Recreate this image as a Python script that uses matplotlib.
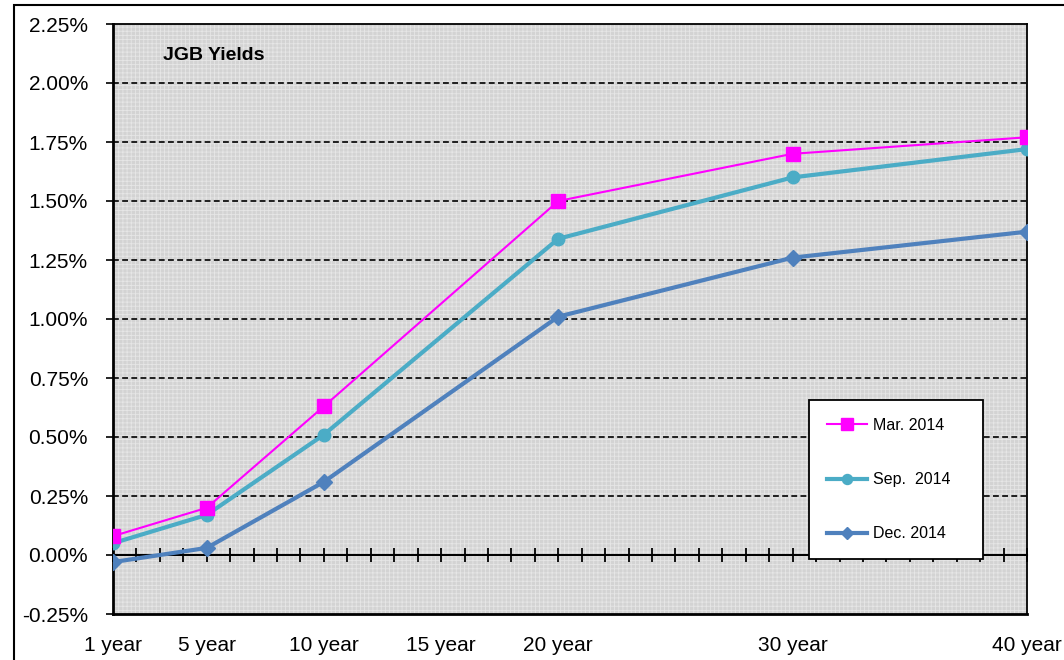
import numpy as np
import matplotlib.pyplot as plt
import matplotlib.patches as mpatches
from matplotlib.ticker import FuncFormatter

# JGB yield curves (in %)
maturity = [1, 5, 10, 20, 30, 40]
mar_2014 = [0.08, 0.20, 0.63, 1.50, 1.70, 1.77]
sep_2014 = [0.05, 0.17, 0.51, 1.34, 1.60, 1.72]
dec_2014 = [-0.03, 0.03, 0.31, 1.01, 1.26, 1.37]

x_ticks = [1, 5, 10, 15, 20, 30, 40]
x_labels = ['1 year', '5 year', '10 year', '15 year', '20 year', '30 year', '40 year']
y_ticks = np.arange(-0.25, 2.26, 0.25)

plt.rcParams['font.family'] = ['Liberation Sans', 'DejaVu Sans']
plt.rcParams['hatch.linewidth'] = 0.6

fig = plt.figure(figsize=(10.64, 6.6), dpi=100)
ax = fig.add_axes([113/1064, 1 - 614/660, 914/1064, 590/660])

# patterned grey background
ax.set_facecolor('#d3d3d3')
bg = mpatches.Rectangle((0, 0), 1, 1, transform=ax.transAxes, facecolor='none',
                        edgecolor='#e6e6e6', hatch='++++', lw=0, zorder=0)
ax.add_patch(bg)

# outer frame of the picture (only left and top edges are visible)
fig.patches.append(mpatches.Rectangle((14/1064, -1.0), 3.0, 2.0 - 5/660,
                                      transform=fig.transFigure, fill=False,
                                      edgecolor='black', lw=1.5))

# dashed grid lines
for y in y_ticks:
    if 0.1 < y < 2.2:
        ax.axhline(y, color='black', lw=1.2, ls=(0, (3.5, 2)), zorder=1)

ax.plot(maturity, mar_2014, color='#ff00ff', lw=1.5, marker='s', ms=10,
        label='Mar. 2014', zorder=4)
ax.plot(maturity, sep_2014, color='#4bacc6', lw=3, marker='o', ms=9,
        label='Sep.  2014', zorder=3)
ax.plot(maturity, dec_2014, color='#4f81bd', lw=3, marker='D', ms=8,
        label='Dec. 2014', zorder=3)

ax.set_xlim(1, 40)
ax.set_ylim(-0.25, 2.25)

ax.set_xticks(x_ticks)
ax.set_xticklabels(x_labels)
ax.tick_params(axis='x', length=0, pad=16, labelsize=15)
ax.set_yticks(y_ticks)
ax.yaxis.set_major_formatter(FuncFormatter(lambda v, p: f'{v:.2f}%'))
ax.tick_params(axis='y', direction='out', length=5, width=1.2, pad=13, labelsize=15)

for s in ['left', 'bottom']:
    ax.spines[s].set_linewidth(2)
for s in ['top', 'right']:
    ax.spines[s].set_linewidth(1.3)

# zero line with yearly tick marks
zero_ax = ax.secondary_xaxis(0.25 / 2.5)
zero_ax.set_xticks(range(1, 41))
zero_ax.set_xticklabels([])
zero_ax.tick_params(direction='inout', length=10, width=1.3)
zero_ax.spines['bottom'].set_linewidth(1.5)

ax.text(0.055, 0.947, 'JGB Yields', transform=ax.transAxes, fontsize=14,
        fontweight='bold', va='center', ha='left')

leg = ax.legend(loc='upper left', bbox_to_anchor=(0.762, 0.262, 0.19, 0.1),
                mode='expand', borderaxespad=0, fontsize=11.5, labelspacing=2.45,
                borderpad=1.1, handlelength=2.5, handletextpad=0.35,
                fancybox=False, framealpha=1, markerscale=0.8)
leg.get_frame().set_edgecolor('black')
leg.get_frame().set_linewidth(1.3)
leg.set_zorder(10)

fig.savefig('out.png', dpi=100)
